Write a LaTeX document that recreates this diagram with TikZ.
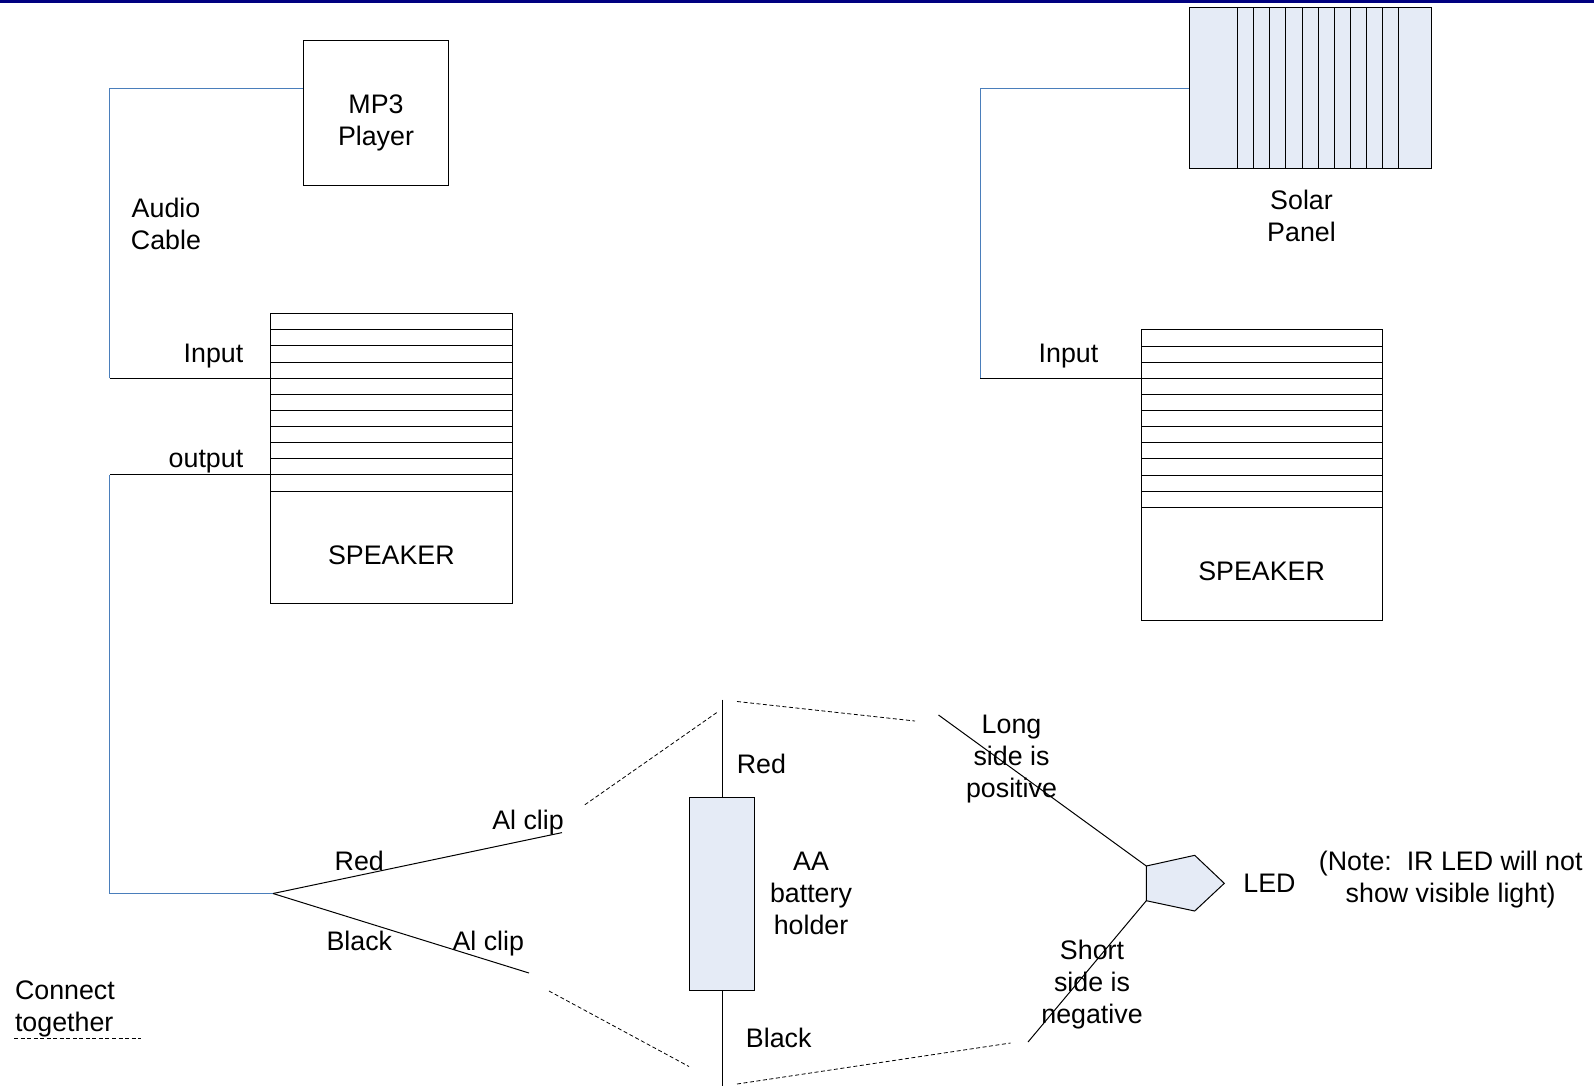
\documentclass[tikz,border=0pt]{standalone}
\usepackage{fontspec}
\setmainfont{Liberation Sans}
\definecolor{barnavy}{HTML}{000080}
\definecolor{wireblue}{HTML}{4A7EBB}
\definecolor{panelfill}{HTML}{E5EBF6}
\tikzset{
  px/.style={x=0.75pt,y=-0.75pt},
  line/.style={draw=black,line width=0.75pt},
  bluewire/.style={draw=wireblue,line width=0.75pt},
  dashline/.style={draw=black,line width=0.6pt,dash pattern=on 3pt off 1.9pt},
  boxnode/.style={draw=black,line width=0.75pt,inner sep=0pt,outer sep=0pt},
  label/.style={inner sep=0pt,outer sep=0pt,align=center,font=\fontsize{20.1}{24}\selectfont},
}
\begin{document}
\begin{tikzpicture}[px]
\useasboundingbox (0,0) rectangle (1594,1086);
\fill[fill=barnavy] (0,0) rectangle (1594,3);

% MP3 player
\node[boxnode,minimum width=108.75pt,minimum height=108.75pt] (mp3) at (375.5,112.5) {};
\node[label] (mp3t) at (376,122.5) {MP3\\Player};

% Left wire to input
\coordinate (a1) at (109.5,88);
\coordinate (a2) at (109.5,378);
\coordinate (a3) at (270.5,378);
\coordinate (mp3w) at (mp3.west |- a1);
\draw[bluewire] (mp3w) -- (a1) -- (a2);
\draw[line] (a2) -- (a3);
\node[label] (audio) at (166,224) {Audio\\Cable};
\node[label] (in1) at (213.5,356) {Input};
\node[label] (out1) at (206,461.5) {output};

% Left speaker
\node[boxnode,minimum width=181.5pt,minimum height=217.5pt] (spk1) at (391.5,458.7) {};
\foreach \yy in {329.8,345.9,362,378,394.2,410.3,426.4,442.6,458.7,474.8,491}
  \draw[line] (270.5,\yy) -- (512.5,\yy);
\node[label] (spk1t) at (391.3,555) {SPEAKER};

% Output wire
\coordinate (b1) at (270.5,474.8);
\coordinate (b2) at (109.5,474.8);
\coordinate (b3) at (109.5,893.5);
\coordinate (j) at (273,893.5);
\draw[line] (b1) -- (b2);
\draw[bluewire] (b2) -- (b3) -- (j);

% Solar panel
\node[boxnode,fill=panelfill,minimum width=181.5pt,minimum height=120.9pt] (solar) at (1310,88.1) {};
\foreach \xx in {1237.3,1253.7,1269.7,1285.7,1302,1318,1334.3,1350.3,1366.3,1382.7,1398.7}
  \draw[line] (\xx,7.5) -- (\xx,168.7);
\node[label] (solart) at (1301.5,215.5) {Solar\\Panel};

% Right wire
\coordinate (c1) at (980,88);
\coordinate (c2) at (980,378);
\coordinate (c3) at (1194.7,378);
\coordinate (solarw) at (solar.west |- c1);
\draw[bluewire] (solarw) -- (c1) -- (c2);
\node[label] (in2) at (1068.5,356) {Input};

% Right speaker
\node[boxnode,minimum width=181pt,minimum height=217.7pt] (spk2) at (1261.7,474.9) {};
\foreach \yy in {346,362.3,378,394.5,410.5,426.7,442.7,458.7,475,491,507.3}
  \draw[line] (1141,\yy) -- (1382.3,\yy);
\draw[line] (c2) -- (c3);
\node[label] (spk2t) at (1261.6,571) {SPEAKER};

% Clip leads
\coordinate (redend) at (562,832.6);
\coordinate (blkend) at (529,973);
\draw[line] (j) -- (redend);
\draw[line] (j) -- (blkend);
\node[label] (redl) at (359.3,861) {Red};
\node[label] (clip1) at (528,822.5) {Al clip};
\node[label] (blkl) at (359.3,941) {Black};
\node[label] (clip2) at (488.3,944) {Al clip};

% Battery holder
\node[boxnode,fill=panelfill,minimum width=48.75pt,minimum height=144.75pt] (batt) at (722,893.5) {};
\coordinate (bt) at (722,699.5);
\coordinate (bb) at (722,1086);
\draw[line] (bt) -- (batt.north);
\draw[line] (batt.south) -- (bb);
\node[label] (redb) at (761.4,763.5) {Red};
\node[label] (aa) at (811,893.6) {AA\\battery\\holder};
\node[label] (blkb) at (778.7,1038) {Black};

% LED
\coordinate (p1) at (1146.3,866);
\coordinate (p2) at (1194.7,855.3);
\coordinate (p3) at (1224.3,883.3);
\coordinate (p4) at (1194.7,911);
\coordinate (p5) at (1146.3,900.7);
\filldraw[fill=panelfill,draw=black,line width=0.75pt] (p1) -- (p2) -- (p3) -- (p4) -- (p5) -- cycle;
\coordinate (longend) at (938.5,715);
\coordinate (shortend) at (1028,1042);
\draw[line] (longend) -- (p1);
\draw[line] (p5) -- (shortend);
\node[label] (long) at (1011.5,759.5) {Long\\side is\\positive};
\node[label] (short) at (1092,985) {Short\\side is\\negative};
\node[label] (led) at (1269.5,883) {LED};
\node[label] (note) at (1450.7,879.5) {(Note:\ \ IR LED will not\\show visible light)};

% Dashed links
\coordinate (d1a) at (737,701.5);
\coordinate (d1b) at (915,721);
\coordinate (d2a) at (716.7,712.6);
\coordinate (d2b) at (584.5,805);
\coordinate (d3a) at (549,991);
\coordinate (d3b) at (689,1066.5);
\coordinate (d4a) at (737,1084);
\coordinate (d4b) at (1010.5,1043);
\coordinate (d5a) at (14,1038);
\coordinate (d5b) at (141,1038);
\draw[dashline] (d1a) -- (d1b);
\draw[dashline] (d2a) -- (d2b);
\draw[dashline] (d3a) -- (d3b);
\draw[dashline] (d4a) -- (d4b);
\draw[dashline] (d5a) -- (d5b);
\node[label,align=left,anchor=west] (conn) at (15,1008.5) {Connect\\together};
\end{tikzpicture}
\end{document}
